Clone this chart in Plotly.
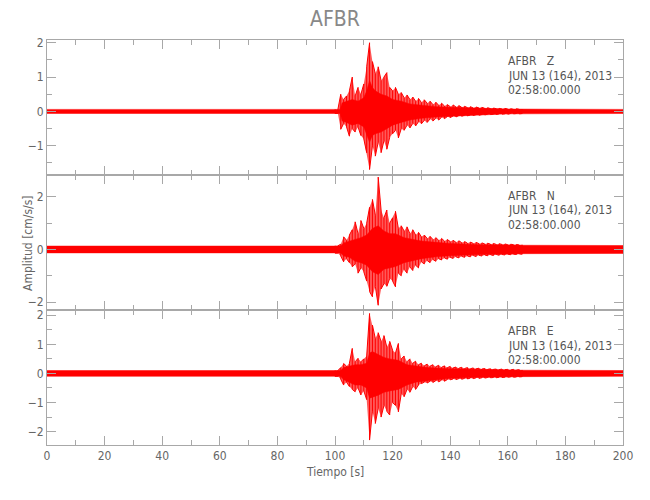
import plotly.graph_objects as go
from plotly.subplots import make_subplots

# --- data (AFBR, 2013-06-13 02:58:00) ---
# peak envelope sampled every second through the event window
PEAK_TIME = list(range(100, 166))

Z_PEAK_UP = [0.06, 0.06, 0.5, 0.35, 0.45, 0.6, 1.0, 0.45, 0.7, 0.5,
             0.8, 1.3, 2.0, 1.45, 1.1, 1.3, 0.9, 1.0, 1.13, 0.7,
             0.6, 0.7, 0.5, 0.55, 0.4, 0.48, 0.35, 0.42, 0.3, 0.38,
             0.26, 0.34, 0.24, 0.3, 0.2, 0.27, 0.18, 0.24, 0.16, 0.2,
             0.14, 0.19, 0.13, 0.17, 0.12, 0.15, 0.11, 0.14, 0.1, 0.13,
             0.1, 0.12, 0.09, 0.11, 0.08, 0.1, 0.08, 0.09, 0.07, 0.09,
             0.07, 0.08, 0.06, 0.08, 0.06, 0.07]
Z_PEAK_LO = [-0.06, -0.06, -0.52, -0.35, -0.45, -0.72, -0.5, -0.6, -0.45, -0.7,
             -0.8, -1.2, -1.69, -1.0, -1.3, -0.9, -1.2, -0.85, -1.1, -0.75,
             -0.65, -0.55, -0.77, -0.5, -0.55, -0.4, -0.48, -0.35, -0.42, -0.3,
             -0.36, -0.26, -0.32, -0.22, -0.28, -0.2, -0.25, -0.17, -0.21, -0.15,
             -0.18, -0.13, -0.16, -0.12, -0.14, -0.11, -0.13, -0.1, -0.12, -0.09,
             -0.11, -0.09, -0.1, -0.08, -0.09, -0.08, -0.09, -0.07, -0.08, -0.07,
             -0.08, -0.06, -0.07, -0.06, -0.07, -0.06]

N_PEAK_UP = [0.14, 0.14, 0.2, 0.48, 0.35, 0.55, 0.75, 1.05, 0.6, 1.1,
             0.8, 1.0, 1.6, 1.9, 1.3, 2.75, 1.5, 1.2, 1.5, 1.0,
             1.2, 1.45, 0.8, 0.9, 0.7, 0.86, 0.6, 0.75, 0.55, 0.65,
             0.48, 0.55, 0.42, 0.5, 0.38, 0.45, 0.35, 0.42, 0.32, 0.38,
             0.3, 0.35, 0.27, 0.33, 0.26, 0.3, 0.24, 0.28, 0.23, 0.27,
             0.22, 0.25, 0.21, 0.24, 0.2, 0.23, 0.19, 0.22, 0.19, 0.21,
             0.18, 0.2, 0.18, 0.19, 0.17, 0.18]
N_PEAK_LO = [-0.14, -0.14, -0.25, -0.47, -0.35, -0.5, -0.66, -0.55, -0.9, -0.7,
             -0.85, -1.2, -1.6, -1.8, -1.4, -2.12, -1.5, -1.3, -1.4, -1.1,
             -1.2, -1.42, -0.9, -1.0, -0.75, -0.9, -0.66, -0.8, -0.6, -0.7,
             -0.47, -0.55, -0.42, -0.5, -0.38, -0.45, -0.35, -0.4, -0.32, -0.37,
             -0.3, -0.34, -0.28, -0.32, -0.26, -0.3, -0.25, -0.28, -0.23, -0.27,
             -0.22, -0.25, -0.21, -0.24, -0.2, -0.23, -0.19, -0.22, -0.19, -0.21,
             -0.18, -0.2, -0.18, -0.19, -0.17, -0.18]

E_PEAK_UP = [0.1, 0.1, 0.2, 0.34, 0.25, 0.35, 0.86, 0.4, 0.52, 0.4,
             0.5, 0.6, 2.06, 1.66, 1.2, 1.4, 1.1, 1.3, 0.9, 1.1,
             0.8, 0.7, 1.03, 0.5, 0.6, 0.4, 0.5, 0.35, 0.42, 0.3,
             0.35, 0.26, 0.32, 0.25, 0.3, 0.23, 0.28, 0.21, 0.26, 0.2,
             0.24, 0.19, 0.22, 0.18, 0.21, 0.17, 0.2, 0.16, 0.19, 0.16,
             0.18, 0.15, 0.17, 0.14, 0.16, 0.14, 0.15, 0.13, 0.15, 0.13,
             0.14, 0.12, 0.14, 0.12, 0.13, 0.12]
E_PEAK_LO = [-0.1, -0.1, -0.2, -0.4, -0.3, -0.45, -0.55, -0.63, -0.5, -0.74,
             -0.6, -0.9, -2.29, -1.3, -1.72, -1.2, -1.5, -1.1, -1.3, -1.43,
             -1.0, -1.1, -1.32, -0.7, -0.8, -0.55, -0.65, -0.45, -0.55, -0.4,
             -0.35, -0.3, -0.33, -0.27, -0.31, -0.25, -0.29, -0.23, -0.27, -0.21,
             -0.22, -0.19, -0.21, -0.18, -0.2, -0.17, -0.19, -0.16, -0.18, -0.15,
             -0.17, -0.15, -0.16, -0.14, -0.15, -0.14, -0.15, -0.13, -0.14, -0.13,
             -0.13, -0.12, -0.13, -0.12, -0.12, -0.11]

# dense core of each trace (where the wiggles overlap into solid red)
Z_CORE_TIME = [0, 101.8, 102.5, 104, 106, 108, 110, 111, 112, 113, 114, 116, 118, 120,
               123, 126, 130, 135, 140, 150, 160, 200]
Z_CORE_UP = [0.06, 0.06, 0.25, 0.3, 0.35, 0.3, 0.4, 0.6, 0.9, 0.7, 0.6, 0.5, 0.45, 0.35,
             0.3, 0.22, 0.18, 0.14, 0.12, 0.09, 0.07, 0.06]
Z_CORE_LO = [-0.06, -0.06, -0.28, -0.32, -0.4, -0.35, -0.45, -0.65, -0.9, -0.7, -0.65, -0.6, -0.5, -0.4,
             -0.32, -0.25, -0.2, -0.16, -0.13, -0.1, -0.07, -0.06]

N_CORE_TIME = [0, 102, 103, 105, 107, 109, 111, 113, 115, 117, 119, 121, 124, 127,
               130, 135, 140, 150, 165, 200]
N_CORE_UP = [0.13, 0.13, 0.25, 0.32, 0.4, 0.45, 0.55, 0.8, 0.9, 0.7, 0.6, 0.6, 0.45, 0.38,
             0.32, 0.27, 0.23, 0.18, 0.16, 0.15]
N_CORE_LO = [-0.13, -0.13, -0.25, -0.3, -0.45, -0.5, -0.6, -0.85, -0.95, -0.75, -0.7, -0.65, -0.5, -0.42,
             -0.35, -0.28, -0.24, -0.19, -0.16, -0.15]

E_CORE_TIME = [0, 102, 103, 105, 107, 109, 111, 112, 113, 115, 117, 119, 122, 125,
               128, 132, 140, 150, 165, 200]
E_CORE_UP = [0.1, 0.1, 0.2, 0.25, 0.3, 0.3, 0.35, 0.7, 0.75, 0.65, 0.55, 0.5, 0.45, 0.3,
             0.25, 0.2, 0.16, 0.13, 0.11, 0.1]
E_CORE_LO = [-0.1, -0.1, -0.22, -0.3, -0.4, -0.4, -0.5, -0.85, -0.8, -0.75, -0.65, -0.6, -0.55, -0.4,
             -0.3, -0.24, -0.17, -0.13, -0.11, -0.1]

COMPONENTS = ["Z", "N", "E"]
Y_RANGES = [[-1.85, 2.08], [-2.3, 2.83], [-2.46, 2.18]]
Y_DTICK = [1, 2, 1]

STATION = "AFBR"
DATE_LINE = "JUN 13 (164), 2013"
TIME_LINE = "02:58:00.000"

FONT = "DejaVu Sans Condensed, Liberation Sans Narrow, DejaVu Sans, sans-serif"
AXIS_GREY = "#a8a8a8"
TEXT_GREY = "#666666"
RED = "#ff0000"

# the page body has an 8px default margin, so the figure is 8px smaller
PAGE_PAD = 8

peaks = [(Z_PEAK_UP, Z_PEAK_LO), (N_PEAK_UP, N_PEAK_LO), (E_PEAK_UP, E_PEAK_LO)]
cores = [(Z_CORE_TIME, Z_CORE_UP, Z_CORE_LO),
         (N_CORE_TIME, N_CORE_UP, N_CORE_LO),
         (E_CORE_TIME, E_CORE_UP, E_CORE_LO)]

fig = make_subplots(rows=3, cols=1, shared_xaxes=True, vertical_spacing=0)

for i, comp in enumerate(COMPONENTS):
    row = i + 1
    up, lo = peaks[i]

    # envelope of the peaks
    fig.add_trace(go.Scatter(
        x=PEAK_TIME + PEAK_TIME[::-1],
        y=up + lo[::-1],
        fill="toself",
        fillcolor="rgba(255,0,0,0.65)",
        line=dict(width=0),
        mode="lines",
        hoverinfo="skip",
        showlegend=False,
    ), row=row, col=1)

    # solid core
    ct, cu, cl = cores[i]
    fig.add_trace(go.Scatter(
        x=ct + ct[::-1],
        y=cu + cl[::-1],
        fill="toself",
        fillcolor=RED,
        line=dict(color=RED, width=0.5),
        mode="lines",
        hoverinfo="skip",
        showlegend=False,
    ), row=row, col=1)

    # one min/max stroke per second, like a decimated seismogram
    sx, sy = [], []
    for k, t in enumerate(PEAK_TIME):
        sx += [t, t]
        sy += [up[k], lo[k]] if k % 2 == 0 else [lo[k], up[k]]
    fig.add_trace(go.Scatter(
        x=sx, y=sy, mode="lines",
        line=dict(color=RED, width=1),
        hoverinfo="skip", showlegend=False,
    ), row=row, col=1)

    fig.update_yaxes(
        range=Y_RANGES[i], dtick=Y_DTICK[i], tick0=0,
        ticks="inside", ticklen=9, tickcolor=AXIS_GREY,
        minor=dict(ticks="inside", dtick=Y_DTICK[i] / 2, ticklen=5, tickcolor=AXIS_GREY),
        showline=True, linecolor=AXIS_GREY, linewidth=1, mirror="ticks",
        showgrid=False, zeroline=False, automargin=False,
        tickfont=dict(family=FONT, size=12, color=TEXT_GREY),
        row=row, col=1,
    )

    # station / date / time block in the upper right of each panel
    top_px = 40 + 135 * i
    for k, txt in enumerate([STATION + "\u00a0\u00a0\u00a0" + comp, DATE_LINE, TIME_LINE]):
        py = top_px + 21 + 14.5 * k
        fig.add_annotation(
            x=159.3, xref="x", y=(445 - py) / 405, yref="paper",
            text=txt, showarrow=False, xanchor="left", yanchor="middle",
            font=dict(family=FONT, size=12, color="#555555"),
        )

fig.update_xaxes(
    range=[0, 200], dtick=20,
    ticks="inside", ticklen=9, tickcolor=AXIS_GREY,
    minor=dict(ticks="inside", dtick=10, ticklen=5, tickcolor=AXIS_GREY),
    showline=True, linecolor=AXIS_GREY, linewidth=1, mirror="ticks",
    showgrid=False, zeroline=False, automargin=False,
    tickfont=dict(family=FONT, size=12, color=TEXT_GREY),
)

fig.add_annotation(x=0.5, xref="paper", y=(445 - 19) / 405, yref="paper",
                   text=STATION, showarrow=False, xanchor="center", yanchor="middle",
                   font=dict(family=FONT, size=21, color="#888888"))
fig.add_annotation(x=0.5, xref="paper", y=(445 - 472) / 405, yref="paper",
                   text="Tiempo [s]", showarrow=False, xanchor="center", yanchor="middle",
                   font=dict(family=FONT, size=12, color=TEXT_GREY))
fig.add_annotation(x=(28 - 47.5) / 575.5, xref="paper", y=0.5, yref="paper",
                   text="Amplitud [cm/s/s]", textangle=-90, showarrow=False,
                   xanchor="center", yanchor="middle",
                   font=dict(family=FONT, size=12, color=TEXT_GREY))

fig.update_layout(
    width=650 - PAGE_PAD, height=500 - PAGE_PAD,
    margin=dict(l=47 - PAGE_PAD, r=27, t=40 - PAGE_PAD, b=55),
    plot_bgcolor="white", paper_bgcolor="white",
)

fig.write_html("out.html")
